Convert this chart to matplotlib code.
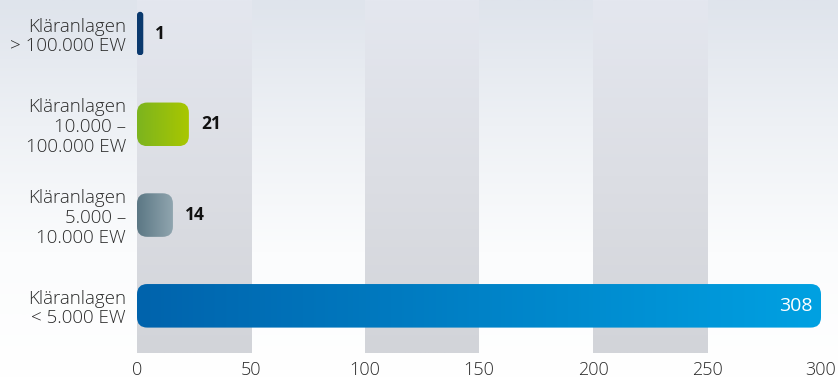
import numpy as np
import matplotlib
matplotlib.use('Agg')
import matplotlib.pyplot as plt
from matplotlib.patches import FancyBboxPatch
from matplotlib.colors import LinearSegmentedColormap

plt.rcParams['font.family'] = ['Open Sans', 'DejaVu Sans']

# data (bottom to top)
kategorien = ['Kläranlagen\n< 5.000 EW',
              'Kläranlagen\n5.000 –\n10.000 EW',
              'Kläranlagen\n10.000 –\n100.000 EW',
              'Kläranlagen\n> 100.000 EW']
anzahl = [308, 14, 21, 1]
farbe_links = ['#0063ac', '#5b7784', '#7cb41f', '#0b3a6e']
farbe_rechts = ['#00a1e2', '#90a5af', '#a9c700', '#0b3a6e']
x_ticks = [0, 50, 100, 150, 200, 250, 300]

x_max = x_ticks[-1]
y_lim = (-0.52, 3.37)
bar_h = 0.48

fig = plt.figure(figsize=(8.38, 3.78), dpi=100)

# background gradient (bluish grey top -> white bottom)
bg = fig.add_axes([0, 0, 1, 1])
bg_cmap = LinearSegmentedColormap.from_list('bg', ['#ffffff', '#fbfcfd', '#eef1f5', '#dfe4ec'])
bg.imshow(np.linspace(0, 1, 256).reshape(-1, 1)[::-1], cmap=bg_cmap, aspect='auto', extent=[0, 1, 0, 1])
bg.axis('off')

ax = fig.add_axes([137 / 838, 25 / 378, (821 - 137) / 838, 353 / 378])
ax.patch.set_alpha(0)

# grey bands
band_cmap = LinearSegmentedColormap.from_list('band', ['#d2d4d9', '#dcdee4', '#e4e7ef'])
for x0 in x_ticks[:-1:2]:
    ax.imshow(np.linspace(0, 1, 256).reshape(-1, 1)[::-1], cmap=band_cmap, aspect='auto',
              extent=[x0, x0 + 50, y_lim[0], y_lim[1]], zorder=0)

# pixel aspect so the corners come out round
bbox = ax.get_position()
px_x = bbox.width * fig.get_figwidth() * fig.dpi / x_max
px_y = bbox.height * fig.get_figheight() * fig.dpi / (y_lim[1] - y_lim[0])
aspect = px_x / px_y
extra = 4 / px_x   # small minimum length like in the original

grad = np.linspace(0, 1, 256).reshape(1, -1)
for i, v in enumerate(anzahl):
    w = min(v + extra, x_max)
    r = min(4.5, w / 2)
    box = FancyBboxPatch((0, i - bar_h / 2), w, bar_h,
                         boxstyle='round,pad=0,rounding_size=%s' % r,
                         mutation_aspect=aspect, facecolor='none', edgecolor='none')
    ax.add_patch(box)
    cm = LinearSegmentedColormap.from_list('b%d' % i, [farbe_links[i], farbe_rechts[i]])
    im = ax.imshow(grad, cmap=cm, aspect='auto',
                   extent=[0, w, i - bar_h / 2, i + bar_h / 2], zorder=2)
    im.set_clip_path(box)
    if v > x_max:
        ax.annotate(str(v), (w, i), xytext=(-8, 0), textcoords='offset pixels',
                    ha='right', va='center', color='white', fontsize=14, zorder=3)
    else:
        ax.annotate(str(v), (w, i), xytext=(12, 0), textcoords='offset pixels',
                    ha='left', va='center', color='#111111', fontsize=12.5,
                    fontweight='bold', zorder=3)

ax.set_yticks(range(len(kategorien)))
ax.set_yticklabels(kategorien, fontsize=13.5, color='#2a2a2a', linespacing=1.12,
                   fontweight='light')
ax.set_xticks(x_ticks)
ax.set_xticklabels([str(t) for t in x_ticks], fontsize=13, color='#2a2a2a',
                   fontweight='light')
ax.tick_params(axis='both', length=0)
ax.tick_params(axis='y', pad=8)
ax.tick_params(axis='x', pad=6)
for s in ax.spines.values():
    s.set_visible(False)
ax.set_xlim(0, x_max)
ax.set_ylim(*y_lim)

fig.savefig('out.png', dpi=100)
